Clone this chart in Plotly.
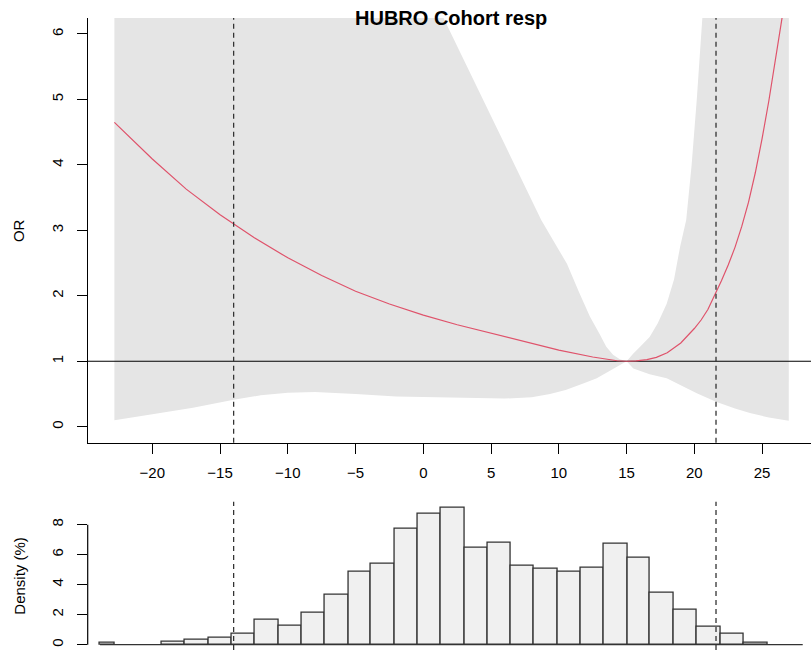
import plotly.graph_objects as go

# ---------------- data ----------------
# odds-ratio curve
or_x = [-22.8, -20, -17.5, -15, -12.5, -10, -7.5, -5, -2.5, 0, 2.5, 5, 7.5, 10, 12.5, 13.5, 14.3,
        15, 15.7, 16.5, 17.2, 18, 19, 20, 20.5, 21, 21.6, 22, 22.5, 23, 23.5, 24, 24.5, 25, 25.5, 26, 26.5, 27]
or_y = [4.65, 4.09, 3.63, 3.24, 2.89, 2.58, 2.31, 2.07, 1.875, 1.705, 1.558, 1.425, 1.293, 1.17, 1.065, 1.03, 1.008,
        1.00, 1.005, 1.025, 1.06, 1.13, 1.28, 1.50, 1.63, 1.79, 2.05, 2.23, 2.47, 2.74, 3.06, 3.43, 3.88, 4.40, 4.98, 5.60, 6.28, 7.05]

# confidence band – upper bound (values above 6 are clipped in the picture)
up_x = [-22.8, -15, -10, -5, 0, 1.5, 3, 5, 7, 8.7, 10, 10.6, 11.5, 12.3, 13, 13.5, 14, 14.5,
        15, 15.5, 16, 16.7, 17.3, 17.96, 18.5, 18.95, 19.4, 19.8, 20.18, 20.66, 21.5, 23, 25, 27]
up_y = [40, 25, 18, 12, 8, 6.24, 5.60, 4.75, 3.90, 3.16, 2.70, 2.49, 2.05, 1.68, 1.42, 1.22, 1.10, 1.03,
        1.00, 1.12, 1.22, 1.37, 1.58, 1.88, 2.25, 2.75, 3.16, 4.00, 5.00, 6.24, 9, 15, 25, 40]

# confidence band – lower bound
lo_x = [-22.8, -20, -17, -14, -12, -10, -8, -5, -2, 0, 3, 6, 8, 9.35, 10.5, 11.8, 12.8, 13.5, 14, 14.5,
        15, 15.5, 16.7, 17.96, 19, 20.18, 21.6, 23, 24.1, 25.5, 26.97]
lo_y = [0.10, 0.19, 0.29, 0.41, 0.48, 0.52, 0.53, 0.50, 0.46, 0.45, 0.44, 0.43, 0.45, 0.50, 0.56, 0.66, 0.74, 0.82, 0.88, 0.94,
        1.00, 0.89, 0.80, 0.74, 0.63, 0.51, 0.38, 0.28, 0.21, 0.14, 0.09]

# reference lines
cut_lo, cut_hi = -14.0, 21.6

# histogram (density, %)
hist_left = [-23.86, -19.31, -17.59, -15.82, -14.14, -12.47, -10.70, -8.97, -7.25, -5.54, -3.86, -2.14, -0.43,
             1.31, 3.06, 4.77, 6.42, 8.15, 9.89, 11.62, 13.34, 15.08, 16.71, 18.45, 20.18, 21.92, 23.65]
hist_right = [-22.75, -17.59, -15.82, -14.14, -12.47, -10.70, -8.97, -7.25, -5.54, -3.86, -2.14, -0.43, 1.31,
              3.06, 4.77, 6.42, 8.15, 9.89, 11.62, 13.34, 15.08, 16.71, 18.45, 20.18, 21.92, 23.65, 25.39]
hist_dens = [0.11, 0.20, 0.36, 0.49, 0.73, 1.67, 1.29, 2.13, 3.31, 4.89, 5.42, 7.73, 8.73,
             9.11, 6.45, 6.82, 5.25, 5.07, 4.89, 5.16, 6.73, 5.80, 3.49, 2.31, 1.20, 0.73, 0.16]
hist_span = [-23.86, 28.0]

or_ticks = [0, 1, 2, 3, 4, 5, 6]
x_ticks = [-20, -15, -10, -5, 0, 5, 10, 15, 20, 25]
dens_ticks = [0, 2, 4, 6, 8]

# ---------------- figure ----------------
W, H = 811, 650
FONT = "Liberation Sans, Arial, sans-serif"
x_dom = [87.7 / W, 1.0]
top_dom = [(H - 442.7) / H, (H - 18) / H]
bot_dom = [0.0, (H - 501.7) / H]
x_rng = [-24.77, 28.61]

fig = go.Figure()

# band
fig.add_trace(go.Scatter(x=up_x + lo_x[::-1], y=up_y + lo_y[::-1], fill="toself",
                         fillcolor="#E5E5E5", line=dict(width=0), mode="lines",
                         hoverinfo="skip", showlegend=False, xaxis="x", yaxis="y"))
# horizontal reference at OR = 1
fig.add_trace(go.Scatter(x=[x_rng[0], x_rng[1]], y=[1, 1], mode="lines",
                         line=dict(color="black", width=1.2), showlegend=False,
                         xaxis="x", yaxis="y"))
# OR curve
fig.add_trace(go.Scatter(x=or_x, y=or_y, mode="lines", line=dict(color="#DF536B", width=1.2),
                         showlegend=False, xaxis="x", yaxis="y"))

# histogram
centers = [(a + b) / 2 for a, b in zip(hist_left, hist_right)]
widths = [b - a for a, b in zip(hist_left, hist_right)]
fig.add_trace(go.Scatter(x=hist_span, y=[0, 0], mode="lines", line=dict(color="#333333", width=1.3),
                         showlegend=False, xaxis="x2", yaxis="y2"))
fig.add_trace(go.Bar(x=centers, y=hist_dens, width=widths,
                     marker=dict(color="#F0F0F0", line=dict(color="#333333", width=1.3)),
                     showlegend=False, xaxis="x2", yaxis="y2"))

# dashed cut-off lines in both panels
for v in (cut_lo, cut_hi):
    fig.add_shape(type="line", xref="x", yref="y domain", x0=v, x1=v, y0=0, y1=1,
                  line=dict(color="#333333", width=1.3, dash="5px,4px"))
    fig.add_shape(type="line", xref="x2", yref="y2 domain", x0=v, x1=v, y0=0, y1=1,
                  line=dict(color="#333333", width=1.3, dash="5px,4px"))
# density axis line (R style, first to last tick)
fig.add_shape(type="line", xref="paper", yref="y2", x0=x_dom[0], x1=x_dom[0],
              y0=dens_ticks[0], y1=dens_ticks[-1], line=dict(color="black", width=1.2))

tickfont = dict(family=FONT, size=15, color="black")
fig.update_layout(
    width=W, height=H, margin=dict(l=0, r=0, t=0, b=0, autoexpand=False),
    paper_bgcolor="white", plot_bgcolor="white",
    font=dict(family=FONT, color="black"),
    bargap=0,
    xaxis=dict(domain=x_dom, range=x_rng, anchor="y", tickmode="array", tickvals=x_ticks,
               ticks="outside", ticklen=10, tickwidth=1.2, tickcolor="black", automargin=False,
               showline=True, linecolor="black", linewidth=1.2, showgrid=False, zeroline=False,
               tickfont=tickfont, ticklabelstandoff=6),
    yaxis=dict(domain=top_dom, range=[-0.2443, 6.2443], anchor="x", tickmode="array", tickvals=or_ticks,
               ticks="outside", ticklen=10, tickwidth=1.2, tickcolor="black", tickangle=-90, automargin=False,
               showline=True, linecolor="black", linewidth=1.2, showgrid=False, zeroline=False,
               tickfont=tickfont, ticklabelstandoff=8),
    xaxis2=dict(domain=x_dom, range=x_rng, anchor="y2", visible=False, matches="x", automargin=False),
    yaxis2=dict(domain=bot_dom, range=[-0.353, 9.53], anchor="x2", tickmode="array", tickvals=dens_ticks,
                ticks="outside", ticklen=10, tickwidth=1.2, tickcolor="black", tickangle=-90, automargin=False,
                showline=False, showgrid=False, zeroline=False, tickfont=tickfont, ticklabelstandoff=8),
    annotations=[
        dict(text="<b>HUBRO Cohort resp</b>", x=451 / W, y=1 - 18.5 / H, xref="paper", yref="paper",
             xanchor="center", yanchor="middle", showarrow=False, font=dict(family=FONT, size=20, color="black")),
        dict(text="OR", x=18.7 / W, y=1 - 230.4 / H, xref="paper", yref="paper", textangle=-90,
             xanchor="center", yanchor="middle", showarrow=False, font=dict(family=FONT, size=15, color="black")),
        dict(text="Density (%)", x=18.7 / W, y=1 - 576 / H, xref="paper", yref="paper", textangle=-90,
             xanchor="center", yanchor="middle", showarrow=False, font=dict(family=FONT, size=15, color="black")),
    ],
)

fig.write_html("out.html", config={"displayModeBar": False},
               post_script="document.body.style.margin='0px';document.body.style.overflow='hidden';")
